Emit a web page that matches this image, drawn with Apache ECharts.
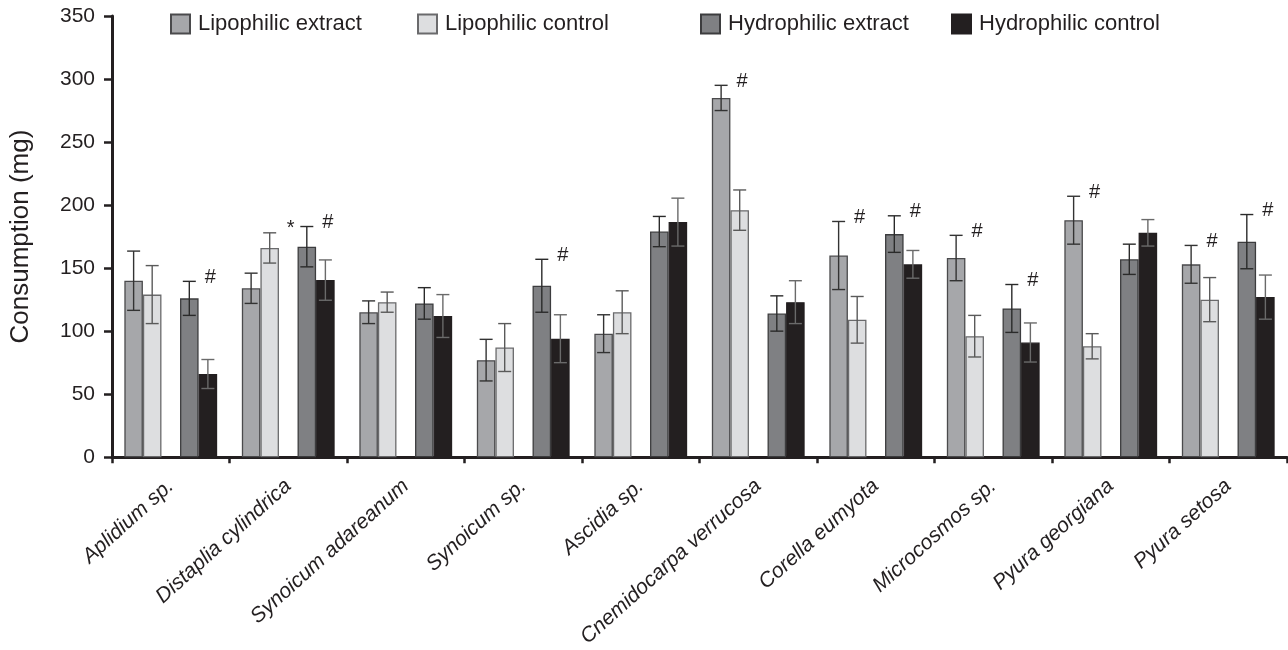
<!DOCTYPE html>
<html>
<head>
<meta charset="utf-8">
<script src="https://cdn.jsdelivr.net/npm/echarts@6/dist/echarts.min.js"></script>
<style>
  html, body { margin: 0; padding: 0; background: #fff; }
  #chart { width: 1288px; height: 650px; }
</style>
</head>
<body>
<div id="chart"></div>
<script>
// Feeding assay: consumption (mg) per ascidian species, mean and error.
const categories = [
  'Aplidium sp.', 'Distaplia cylindrica', 'Synoicum adareanum', 'Synoicum sp.',
  'Ascidia sp.', 'Cnemidocarpa verrucosa', 'Corella eumyota', 'Microcosmos sp.',
  'Pyura georgiana', 'Pyura setosa'
];

const lipoExtract      = [140, 134, 115, 77, 98, 285, 160, 158, 188, 153];
const lipoExtractErr   = [23.5, 12, 9, 16.5, 15, 10, 27, 18, 19, 15];
const lipoControl      = [129, 166, 123, 87, 115, 196, 109, 96, 88, 125];
const lipoControlErr   = [23, 12, 8, 19, 17, 16, 18.5, 16.5, 10, 17.5];
const hydroExtract     = [126, 167, 122, 136, 179, 114, 177, 118, 157, 171];
const hydroExtractErr  = [13.5, 16, 12.5, 21, 12, 14, 14.5, 19, 12, 21.5];
const hydroControl     = [66, 140.5, 112, 94, 186.5, 123, 153, 91, 178, 127];
const hydroControlErr  = [11.5, 16, 17, 19, 19, 17, 11, 15.5, 10.5, 17.5];

// Significance marks placed beside the error bar of a bar ('' = none)
const lipoExtractMark  = ['', '', '', '', '', '#', '#', '#', '#', '#'];
const lipoControlMark  = ['', '*', '', '', '', '', '', '', '', ''];
const hydroExtractMark = ['#', '#', '', '#', '', '', '#', '#', '', '#'];
const hydroControlMark = ['', '', '', '', '', '', '', '', '', ''];

const yTicks = { min: 0, max: 350, interval: 50 };

const FONT = '"Liberation Sans", Arial, Helvetica, sans-serif';
const INK = '#231f20';
const CAT_GAP = 0.21;   // fraction of each category band left empty
const SLOTS = 5;        // four bars plus an empty slot between the pairs

const groups = [
  { name: 'Lipophilic extract',  values: lipoExtract,  err: lipoExtractErr,  marks: lipoExtractMark,
    slot: 0, fill: '#a6a7aa', border: '#4a4a4c', errColor: '#333333' },
  { name: 'Lipophilic control',  values: lipoControl,  err: lipoControlErr,  marks: lipoControlMark,
    slot: 1, fill: '#dddee0', border: '#6a6a6c', errColor: '#5a5a5a' },
  { name: 'Hydrophilic extract', values: hydroExtract, err: hydroExtractErr, marks: hydroExtractMark,
    slot: 3, fill: '#7f8083', border: '#3c3c3e', errColor: '#2a2a2a' },
  { name: 'Hydrophilic control', values: hydroControl, err: hydroControlErr, marks: hydroControlMark,
    slot: 4, fill: INK, border: INK, errColor: '#6a6a6a' }
];

// Flat list of error bars for the custom series
const errItems = [];
groups.forEach(g => {
  g.values.forEach((v, i) => {
    errItems.push({ cat: i, value: v, err: g.err[i], slot: g.slot, color: g.errColor, mark: g.marks[i] });
  });
});

function renderErr(params, api) {
  const it = errItems[params.dataIndex];
  const band = api.size([1, 0])[0];
  const w = band * (1 - CAT_GAP) / SLOTS;
  const x = api.coord([it.cat, it.value])[0] + (it.slot - (SLOTS - 1) / 2) * w;
  const yHi = api.coord([it.cat, it.value + it.err])[1];
  const yLo = api.coord([it.cat, it.value - it.err])[1];
  const cap = 6.5;
  const style = { stroke: it.color, lineWidth: 1.4 };
  const children = [
    { type: 'line', shape: { x1: x, y1: yHi, x2: x, y2: yLo }, style },
    { type: 'line', shape: { x1: x - cap, y1: yHi, x2: x + cap, y2: yHi }, style },
    { type: 'line', shape: { x1: x - cap, y1: yLo, x2: x + cap, y2: yLo }, style }
  ];
  if (it.mark) {
    children.push({
      type: 'text', x: x + 21, y: yHi - 4,
      style: { text: it.mark, fill: INK, fontSize: 20, fontFamily: FONT, align: 'center', verticalAlign: 'middle' }
    });
  }
  return { type: 'group', children };
}

const barSeries = groups.map(g => ({
  name: g.name,
  type: 'bar',
  data: g.values,
  barGap: '0%',
  barCategoryGap: (CAT_GAP * 100) + '%',
  itemStyle: { color: g.fill, borderColor: g.border, borderWidth: 1.3 },
  emphasis: { disabled: true },
  silent: true
}));

// empty slot that separates the lipophilic pair from the hydrophilic pair
const spacer = {
  name: 'gap', type: 'bar', data: categories.map(() => '-'),
  barGap: '0%', barCategoryGap: (CAT_GAP * 100) + '%', silent: true
};

const legendBase = {
  top: 13, padding: 0, icon: 'rect', itemWidth: 19, itemHeight: 19, itemGap: 0,
  selectedMode: false,
  textStyle: { fontSize: 22, fontFamily: FONT, color: INK, padding: [0, 0, 0, 3] }
};

const option = {
  animation: false,
  backgroundColor: '#fff',
  legend: [
    Object.assign({ left: 170, data: [groups[0].name] }, legendBase),
    Object.assign({ left: 417, data: [groups[1].name] }, legendBase),
    Object.assign({ left: 700, data: [groups[2].name] }, legendBase),
    Object.assign({ left: 951, data: [groups[3].name] }, legendBase)
  ],
  grid: { left: 112, right: 1, top: 16, bottom: 190, containLabel: false },
  xAxis: {
    type: 'category',
    data: categories,
    axisLine: { lineStyle: { color: INK, width: 3 } },
    axisTick: { show: true, interval: 0, alignWithLabel: false, length: 6, lineStyle: { color: INK, width: 2.5 } },
    axisLabel: {
      interval: 0, rotate: 42, margin: 26,
      fontSize: 21, fontStyle: 'italic', fontFamily: FONT, color: INK
    }
  },
  yAxis: {
    type: 'value',
    min: yTicks.min, max: yTicks.max, interval: yTicks.interval,
    name: 'Consumption (mg)',
    nameLocation: 'middle', nameGap: 78,
    nameTextStyle: { fontSize: 26, fontFamily: FONT, color: INK },
    axisLine: { show: true, lineStyle: { color: INK, width: 3 } },
    axisTick: { show: true, length: 8, lineStyle: { color: INK, width: 2.5 } },
    axisLabel: { fontSize: 21, fontFamily: FONT, color: INK, margin: 17 },
    splitLine: { show: false }
  },
  series: [
    barSeries[0], barSeries[1], spacer, barSeries[2], barSeries[3],
    {
      type: 'custom',
      renderItem: renderErr,
      data: errItems.map(d => [d.cat, d.value + d.err]),
      z: 10,
      silent: true
    }
  ]
};

const chart = echarts.init(document.getElementById('chart'), null, { renderer: 'canvas' });
chart.setOption(option);
</script>
</body>
</html>
